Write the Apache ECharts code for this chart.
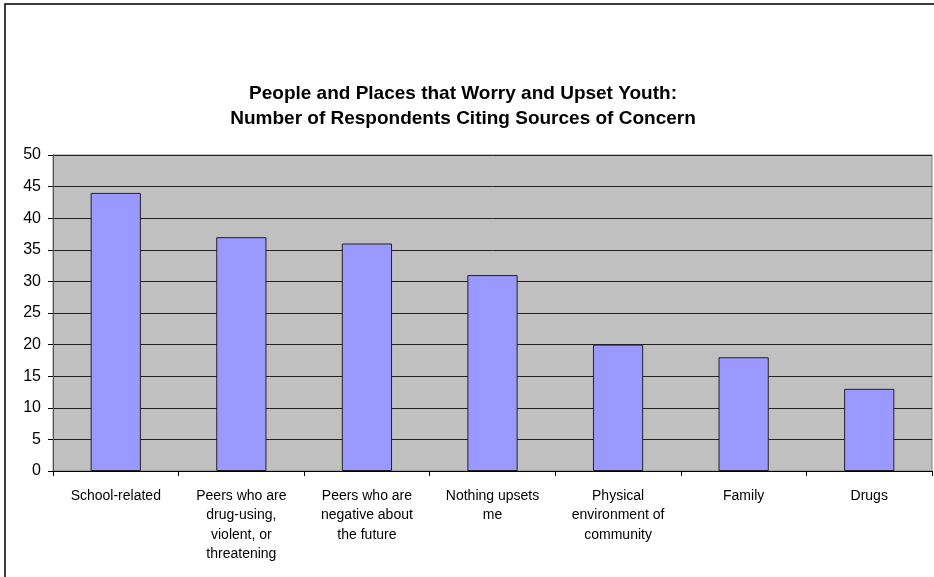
<!DOCTYPE html>
<html>
<head>
<meta charset="utf-8">
<script src="https://cdn.jsdelivr.net/npm/echarts@6/dist/echarts.min.js"></script>
<style>
html, body { margin: 0; padding: 0; background: #fff; }
#chart { width: 934px; height: 577px; }
</style>
</head>
<body>
<div id="chart"></div>
<script>
// categories and counts
const categories = [
  'School-related',
  'Peers who are\ndrug-using,\nviolent, or\nthreatening',
  'Peers who are\nnegative about\nthe future',
  'Nothing upsets\nme',
  'Physical\nenvironment of\ncommunity',
  'Family',
  'Drugs'
]
const respondents = [44, 37, 36, 31, 20, 18, 13]
const titleLines = [
  'People and Places that Worry and Upset Youth:',
  'Number of Respondents Citing Sources of Concern'
]

const chart = echarts.init(document.getElementById('chart'))

const options = {
  animation: false,
  textStyle: { fontFamily: 'Liberation Sans, Arial, sans-serif' },
  title: {
    text: titleLines.join('\n'),
    left: 458,
    top: 76,
    textAlign: 'center',
    textStyle: {
      fontSize: 19,
      fontWeight: 'bold',
      color: '#000',
      lineHeight: 25
    }
  },
  graphic: [{
    type: 'rect',
    shape: { x: 5, y: 4, width: 1200, height: 1000 },
    style: { fill: 'none', stroke: '#000', lineWidth: 1.5 },
    silent: true
  }],
  grid: {
    left: 53,
    right: 2,
    top: 155,
    bottom: 106,
    show: true,
    backgroundColor: '#C0C0C0',
    borderColor: '#808080',
    borderWidth: 1
  },
  xAxis: {
    type: 'category',
    data: categories,
    axisLine: { show: true, lineStyle: { color: '#000', width: 1 } },
    axisTick: { show: true, length: 5, lineStyle: { color: '#000' } },
    axisLabel: {
      interval: 0,
      color: '#000',
      fontSize: 14,
      lineHeight: 19.5,
      margin: 15
    }
  },
  yAxis: {
    type: 'value',
    min: 0,
    max: 50,
    interval: 5,
    axisLine: { show: true, lineStyle: { color: '#555', width: 1 } },
    axisTick: { show: true, length: 5, lineStyle: { color: '#000' } },
    axisLabel: { color: '#000', fontSize: 16, margin: 12 },
    splitLine: { show: true, lineStyle: { color: '#222', width: 1 } }
  },
  series: [{
    type: 'bar',
    data: respondents,
    barWidth: '40%',
    itemStyle: {
      color: '#9999FF',
      borderColor: '#222',
      borderWidth: 1
    }
  }]
}

chart.setOption(options)
window.addEventListener('resize', () => chart.resize())
</script>
</body>
</html>
